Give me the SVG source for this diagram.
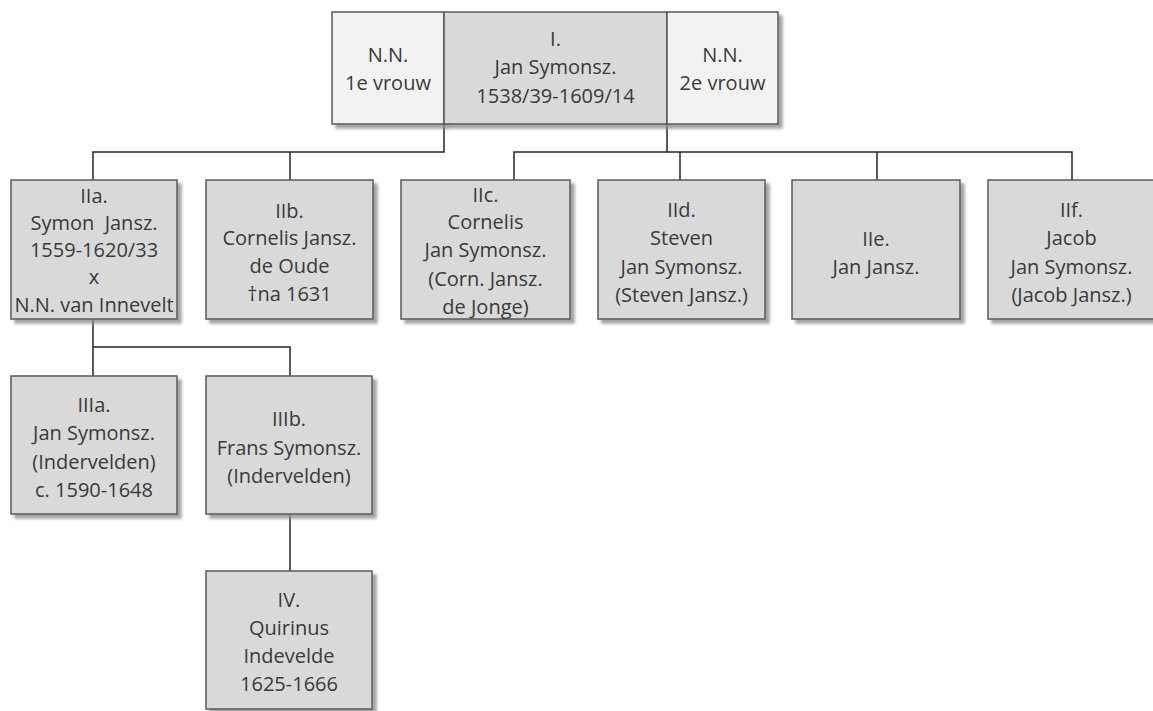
<svg xmlns="http://www.w3.org/2000/svg" width="1153" height="711" viewBox="0 0 1153 711">
<defs>
<filter id="sh" x="-10%" y="-10%" width="130%" height="130%">
<feDropShadow dx="4" dy="4" stdDeviation="1.5" flood-color="#8c8c8c" flood-opacity="0.8"/>
</filter>
<style>
.box{fill:#d9d9d9;stroke:#595959;stroke-width:1.5;filter:url(#sh)}
.sp{fill:#f2f2f2;stroke:#595959;stroke-width:1.5;filter:url(#sh)}
text{font-family:"Open Sans","Liberation Sans",sans-serif;font-size:20px;fill:#3a3a3a;text-anchor:middle}
.conn{fill:none;stroke:#262626;stroke-width:1.5}
</style>
</defs>
<rect width="1153" height="711" fill="#ffffff"/>
<g id="connectors" class="conn">
<path d="M444,124 V152 H93 V180"/>
<path d="M290,152 V180"/>
<path d="M667,124 V152 H514 V180"/>
<path d="M667,152 H1072 V180"/>
<path d="M680,152 V180"/>
<path d="M877,152 V180"/>
<path d="M93,319 V347 H290 V376"/>
<path d="M93,347 V376"/>
<path d="M290,514 V571"/>
</g>
<g id="nn1">
<rect class="sp" x="332" y="12" width="112" height="112"/>
<text x="388" y="62">N.N.</text>
<text x="388" y="90">1e vrouw</text>
</g>
<g id="I">
<rect class="box" x="444" y="12" width="223" height="112"/>
<text x="555.5" y="46">I.</text>
<text x="555.5" y="74">Jan Symonsz.</text>
<text x="555.5" y="103">1538/39-1609/14</text>
</g>
<g id="nn2">
<rect class="sp" x="667" y="12" width="111" height="112"/>
<text x="722.5" y="62">N.N.</text>
<text x="722.5" y="90">2e vrouw</text>
</g>
<g id="IIa">
<rect class="box" x="11" y="180" width="166" height="139"/>
<text x="94" y="203">IIa.</text>
<text x="94" y="230" xml:space="preserve">Symon  Jansz.</text>
<text x="94" y="257">1559-1620/33</text>
<text x="94" y="284">x</text>
<text x="94" y="312">N.N. van Innevelt</text>
</g>
<g id="IIb">
<rect class="box" x="206" y="180" width="167" height="139"/>
<text x="289.5" y="218">IIb.</text>
<text x="289.5" y="245">Cornelis Jansz.</text>
<text x="289.5" y="273">de Oude</text>
<text x="289.5" y="301">†na 1631</text>
</g>
<g id="IIc">
<rect class="box" x="401" y="180" width="169" height="139"/>
<text x="485.5" y="202">IIc.</text>
<text x="485.5" y="229">Cornelis</text>
<text x="485.5" y="257">Jan Symonsz.</text>
<text x="485.5" y="286">(Corn. Jansz.</text>
<text x="485.5" y="314">de Jonge)</text>
</g>
<g id="IId">
<rect class="box" x="598" y="180" width="167" height="139"/>
<text x="681.5" y="217">IId.</text>
<text x="681.5" y="245">Steven</text>
<text x="681.5" y="274">Jan Symonsz.</text>
<text x="681.5" y="302">(Steven Jansz.)</text>
</g>
<g id="IIe">
<rect class="box" x="792" y="180" width="168" height="139"/>
<text x="876" y="246">IIe.</text>
<text x="876" y="274">Jan Jansz.</text>
</g>
<g id="IIf">
<rect class="box" x="988" y="180" width="167" height="139"/>
<text x="1071.5" y="217">IIf.</text>
<text x="1071.5" y="245">Jacob</text>
<text x="1071.5" y="274">Jan Symonsz.</text>
<text x="1071.5" y="302">(Jacob Jansz.)</text>
</g>
<g id="IIIa">
<rect class="box" x="11" y="376" width="166" height="138"/>
<text x="94" y="412">IIIa.</text>
<text x="94" y="440">Jan Symonsz.</text>
<text x="94" y="469">(Indervelden)</text>
<text x="94" y="497">c. 1590-1648</text>
</g>
<g id="IIIb">
<rect class="box" x="206" y="376" width="166" height="138"/>
<text x="289" y="426">IIIb.</text>
<text x="289" y="455">Frans Symonsz.</text>
<text x="289" y="483">(Indervelden)</text>
</g>
<g id="IV">
<rect class="box" x="206" y="571" width="166" height="138"/>
<text x="289" y="607">IV.</text>
<text x="289" y="635">Quirinus</text>
<text x="289" y="663">Indevelde</text>
<text x="289" y="691">1625-1666</text>
</g>
</svg>
